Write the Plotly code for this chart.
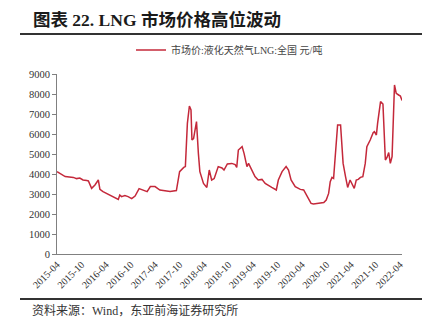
import plotly.graph_objects as go

dates = ["2015-04-01","2015-06-01","2015-08-01","2015-08-25","2015-09-18","2015-10-12","2015-11-09","2015-11-21",
 "2015-12-15","2016-01-09","2016-02-03","2016-02-15","2016-03-09","2016-04-06","2016-05-01","2016-06-06",
 "2016-07-01","2016-07-12","2016-07-25","2016-08-19","2016-09-12","2016-10-09","2016-11-03","2016-12-03",
 "2016-12-25","2017-02-01","2017-02-25","2017-04-01","2017-05-07","2017-06-01","2017-07-22","2017-09-07",
 "2017-10-01","2017-11-01","2017-11-13","2017-11-28","2017-12-13","2017-12-25","2018-01-01","2018-01-13",
 "2018-02-04","2018-02-18","2018-03-01","2018-03-28","2018-04-22","2018-05-10","2018-05-28","2018-06-16",
 "2018-07-16","2018-08-13","2018-08-28","2018-09-22","2018-10-25","2018-11-19","2018-12-01","2018-12-13",
 "2019-01-10","2019-01-25","2019-02-15","2019-02-27","2019-03-22","2019-04-16","2019-05-10","2019-06-07",
 "2019-07-01","2019-07-25","2019-08-19","2019-09-22","2019-10-07","2019-11-04","2019-12-04","2019-12-22",
 "2020-01-10","2020-02-10","2020-03-19","2020-04-13","2020-05-01","2020-05-19","2020-06-07","2020-06-25",
 "2020-08-01","2020-09-10","2020-09-28","2020-10-16","2020-10-28","2020-11-10","2020-11-22","2020-12-04",
 "2020-12-22","2021-01-13","2021-01-19","2021-02-01","2021-02-19","2021-03-07","2021-03-25","2021-04-16",
 "2021-04-25","2021-05-10","2021-05-25","2021-06-10","2021-06-28","2021-07-16","2021-07-28","2021-08-22",
 "2021-09-13","2021-09-22","2021-10-07","2021-10-16","2021-11-07","2021-11-25","2021-12-04","2021-12-13",
 "2021-12-25","2022-01-07","2022-01-19","2022-02-01","2022-02-19","2022-03-04","2022-03-22","2022-04-04",
 "2022-04-16"]
prices = [4115,3870,3830,3770,3800,3700,3670,3650,
 3280,3450,3700,3230,3120,3030,2950,2820,
 2730,2950,2870,2920,2870,2770,2900,3270,
 3200,3120,3370,3370,3200,3170,3130,3170,
 4120,4330,4370,6530,7400,7200,5700,5770,
 6620,5030,4120,3530,3330,4200,3700,3770,
 4370,4300,4200,4500,4530,4470,4330,5200,
 5370,5020,4370,4530,4200,3870,3700,3730,
 3530,3450,3330,3200,3700,4120,4370,4200,
 3700,3370,3230,3200,3000,2780,2530,2500,
 2530,2570,2700,3030,3620,3830,3780,5030,
 6450,6450,5700,4530,3870,3330,3700,3370,
 3280,3700,3730,3830,3870,4530,5370,5700,
 6070,6120,5950,6530,7620,7500,5870,4700,
 4830,5070,4530,4870,8450,8030,7950,7900,
 7670]

tick_vals = ["2015-04-01","2015-10-01","2016-04-01","2016-10-01","2017-04-01","2017-10-01","2018-04-01",
 "2018-10-01","2019-04-01","2019-10-01","2020-04-01","2020-10-01","2021-04-01","2021-10-01","2022-04-01"]
tick_text = [d[:7] for d in tick_vals]
y_ticks = [0,1000,2000,3000,4000,5000,6000,7000,8000,9000]

series_name = "市场价:液化天然气LNG:全国 元/吨"
title_text = "图表 22. LNG 市场价格高位波动"
source_text = "资料来源：Wind，东亚前海证券研究所"

W, H = 435, 325
L, R, T, B = 57, 33, 74, 71
PW, PH = W - L - R, H - T - B

def px(x):
    return (x - L) / PW

def py(y):
    return (H - B - y) / PH

serif = "Liberation Serif, Noto Sans CJK SC, serif"

fig = go.Figure()
fig.add_trace(go.Scatter(x=dates, y=prices, mode="lines", name=series_name,
                         line=dict(color="#C4283A", width=1.5)))

fig.update_layout(
    width=W, height=H,
    margin=dict(l=L, r=R, t=T, b=B),
    paper_bgcolor="white", plot_bgcolor="white",
    showlegend=True,
    legend=dict(orientation="h", x=px(131), y=py(50), xanchor="left", yanchor="middle",
                font=dict(family=serif, size=10, color="#444444"),
                itemwidth=30, bgcolor="rgba(0,0,0,0)"),
    xaxis=dict(type="date", range=["2015-04-01", "2022-04-16"],
               tickmode="array", tickvals=tick_vals, ticktext=tick_text, tickangle=-45,
               showgrid=False, zeroline=False, showline=True, linecolor="#808080", linewidth=1,
               ticks="", tickfont=dict(family=serif, size=10, color="#333333")),
    yaxis=dict(range=[0, 9000], tickmode="array", tickvals=y_ticks,
               showgrid=False, zeroline=False, showline=True, linecolor="#808080", linewidth=1,
               ticks="outside", ticklen=4, tickcolor="#808080",
               tickfont=dict(family=serif, size=10.5, color="#333333")),
    shapes=[
        dict(type="line", xref="paper", yref="paper", x0=px(20), x1=px(422), y0=py(34), y1=py(34),
             line=dict(color="#333333", width=2)),
        dict(type="line", xref="paper", yref="paper", x0=px(20), x1=px(422), y0=py(299), y1=py(299),
             line=dict(color="#333333", width=2)),
    ],
    annotations=[
        dict(text="<b>" + title_text + "</b>", xref="paper", yref="paper", x=px(31), y=py(20),
             xanchor="left", yanchor="middle", showarrow=False,
             font=dict(family=serif, size=17.5, color="#1a1a1a")),
        dict(text=source_text, xref="paper", yref="paper", x=px(30), y=py(310),
             xanchor="left", yanchor="middle", showarrow=False,
             font=dict(family=serif, size=12, color="#333333")),
    ],
)

fig.write_html("out.html")
